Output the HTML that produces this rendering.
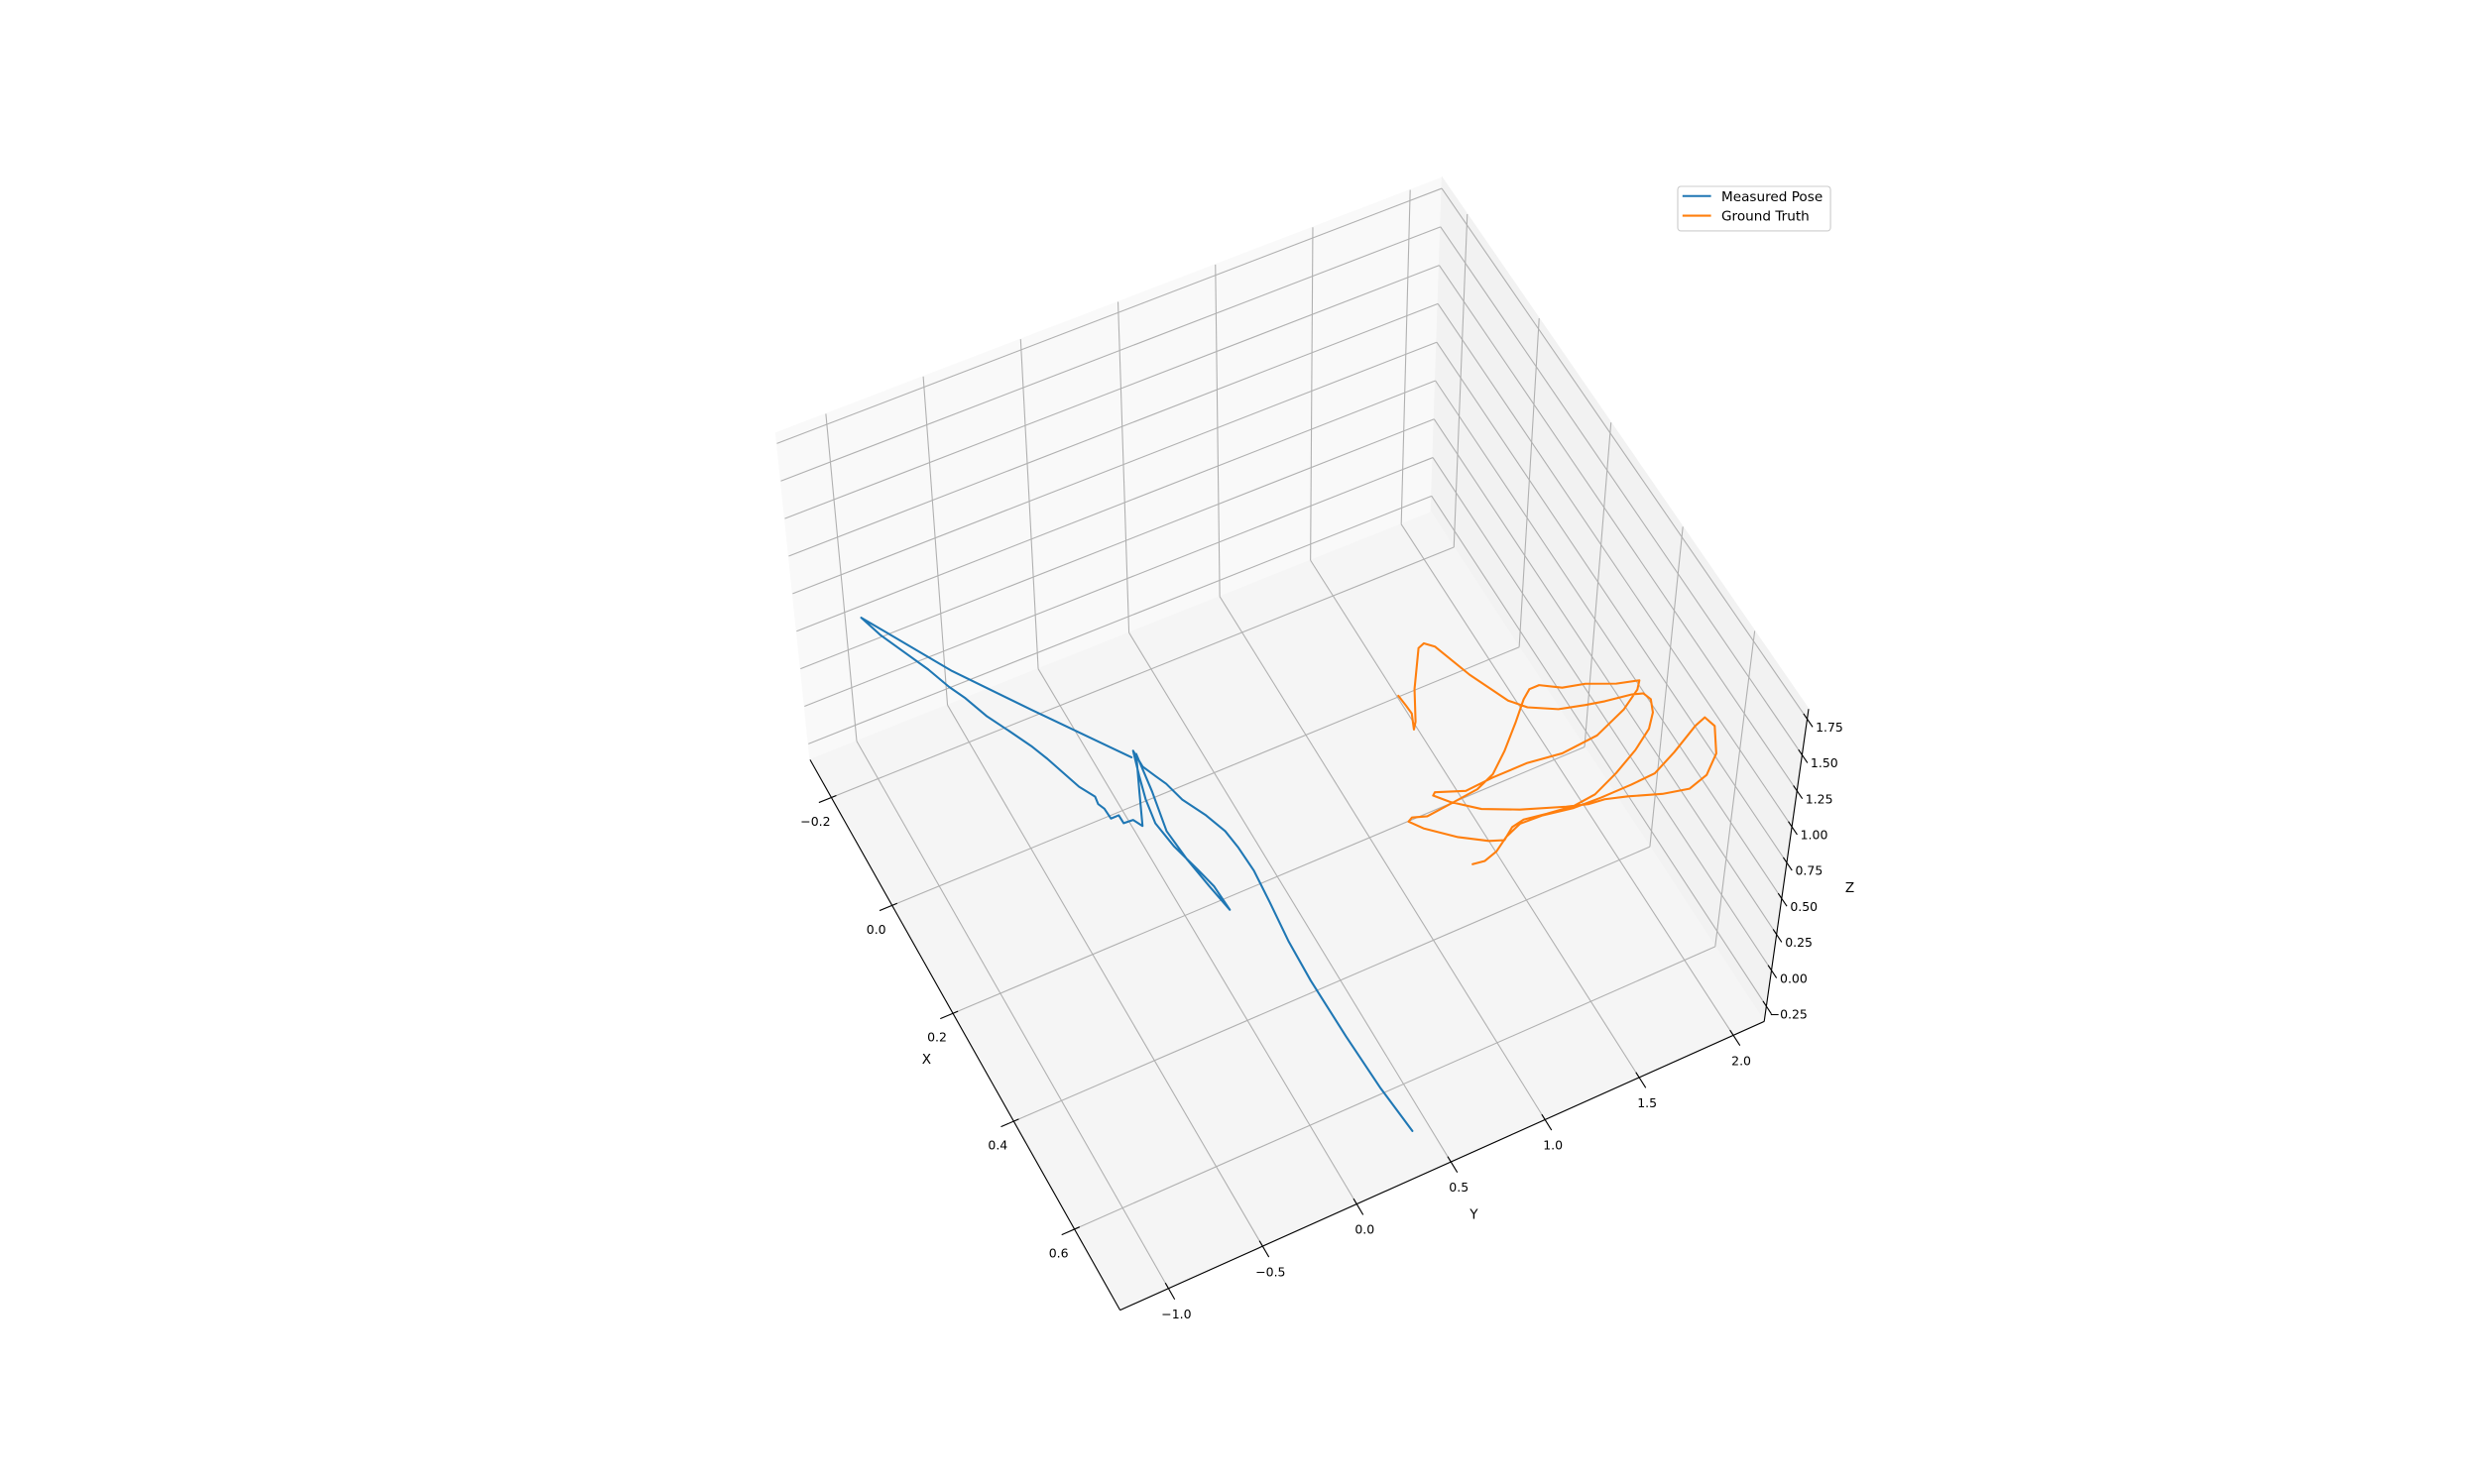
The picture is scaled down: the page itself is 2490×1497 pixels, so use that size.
<!DOCTYPE html>
<html><head><meta charset="utf-8"><title>3D Pose Trajectory</title>
<style>html,body{margin:0;padding:0;background:#fff;}svg{display:block;}</style></head>
<body>
<svg id="chart" width="2490" height="1497" viewBox="0 0 1556.25 935.625" xmlns="http://www.w3.org/2000/svg" font-family="'DejaVu Sans','Liberation Sans',sans-serif">
<g id="panes"></g>
<g id="grid"></g>
<g id="axes"></g>
<g id="series"></g>
<g id="legend">
  <rect x="1057.5" y="117.5" width="96.3" height="28.1" rx="2" fill="#fff" fill-opacity="0.8" stroke="#cccccc" stroke-width="0.7"/>
  <g>
    <line x1="1060.5" y1="123.6" x2="1078.5" y2="123.6" stroke="#1f77b4" stroke-width="1.3"/>
    <text x="1085" y="126.8" font-size="8.5" fill="#000">Measured Pose</text>
  </g>
  <g>
    <line x1="1060.5" y1="136" x2="1078.5" y2="136" stroke="#ff7f0e" stroke-width="1.3"/>
    <text x="1085" y="139.2" font-size="8.5" fill="#000">Ground Truth</text>
  </g>
</g>
</svg>
<script>
// ---- axis limits ----
const xLim = [-0.27, 0.75];
const yLim = [-1.257, 2.164];
const zLim = [-0.356, 1.82];
// ---- ticks ----
const xTicks = [-0.2, 0.0, 0.2, 0.4, 0.6];
const xTickLabels = ["\u22120.2", "0.0", "0.2", "0.4", "0.6"];
const yTicks = [-1.0, -0.5, 0.0, 0.5, 1.0, 1.5, 2.0];
const yTickLabels = ["\u22121.0", "\u22120.5", "0.0", "0.5", "1.0", "1.5", "2.0"];
const zTicks = [-0.25, 0.0, 0.25, 0.5, 0.75, 1.0, 1.25, 1.5, 1.75];
const zTickLabels = ["\u22120.25", "0.00", "0.25", "0.50", "0.75", "1.00", "1.25", "1.50", "1.75"];
// ---- Measured Pose series ----
const measX = [0.751,0.666,0.565,0.458,0.385,0.313,0.255,0.209,0.177,0.141,0.102,0.068,0.049,0.027,-0.003,0.039,0.079,0.121,0.168,0.219,0.253,0.299,0.250,0.196,0.140,0.071,0.004,0.063,0.117,0.102,0.101,0.086,0.086,0.067,0.056,0.043,0.018,-0.013,-0.044,-0.073,-0.107,-0.145,-0.187,-0.213,-0.252,-0.292,-0.332,-0.370,-0.235,-0.128,-0.022,0.006];
const measY = [0.278,0.254,0.241,0.235,0.242,0.263,0.277,0.270,0.257,0.216,0.155,0.127,0.100,0.070,0.070,0.031,-0.002,-0.022,-0.001,0.041,0.067,0.074,0.047,0.021,0.006,0.046,0.075,-0.009,-0.084,-0.109,-0.158,-0.159,-0.201,-0.204,-0.219,-0.213,-0.257,-0.290,-0.323,-0.360,-0.414,-0.477,-0.527,-0.568,-0.615,-0.676,-0.737,-0.778,-0.514,-0.266,-0.019,0.046];
const measZ = [0,0,0,0,0,0,0,0,0,0,0,0,0,0,0,0,0,0,0,0,0,0,0,0,0,0,0,0,0,0,0,0,0,0,0,0,0,0,0,0,0,0,0,0,0,0,0,0,0,0,0,0];
// ---- Ground Truth series ----
const gtX = [0.080,0.100,0.116,0.142,0.131,0.080,0.019,0.015,0.027,0.093,0.158,0.181,0.204,0.215,0.222,0.229,0.235,0.249,0.271,0.294,0.318,0.341,0.360,0.364,0.358,0.352,0.356,0.371,0.362,0.336,0.300,0.280,0.276,0.284,0.280,0.275,0.262,0.234,0.196,0.166,0.154,0.154,0.173,0.182,0.202,0.212,0.225,0.247,0.270,0.275,0.267,0.267,0.270,0.252,0.256,0.277,0.308,0.334,0.360,0.371,0.374,0.385,0.404,0.414,0.404,0.377,0.333,0.313,0.320,0.347,0.367,0.369,0.369,0.367,0.358,0.356,0.367,0.383,0.390,0.387];
const gtY = [1.354,1.360,1.363,1.329,1.357,1.441,1.570,1.606,1.644,1.714,1.806,1.869,1.994,2.118,2.210,2.342,2.393,2.408,2.380,2.318,2.203,2.060,1.914,1.794,1.660,1.548,1.480,1.413,1.346,1.227,1.105,1.060,1.085,1.153,1.284,1.436,1.541,1.652,1.780,1.875,1.927,1.979,2.069,2.177,2.307,2.413,2.379,2.268,2.084,1.889,1.717,1.532,1.383,1.249,1.233,1.288,1.400,1.559,1.760,1.863,1.941,2.046,2.195,2.321,2.430,2.529,2.599,2.582,2.519,2.359,2.220,2.092,1.929,1.788,1.640,1.522,1.430,1.350,1.276,1.216];
const gtZ = [0,0,0,0,0,0,0,0,0,0,0,0,0,0,0,0,0,0,0,0,0,0,0,0,0,0,0,0,0,0,0,0,0,0,0,0,0,0,0,0,0,0,0,0,0,0,0,0,0,0,0,0,0,0,0,0,0,0,0,0,0,0,0,0,0,0,0,0,0,0,0,0,0,0,0,0,0,0,0,0];

// ---- projection: box corners on screen (viewBox units) ----
const C000=[510.6,479], C100=[706,826], C110=[1112,644], C010=[902,323];
const C001=[489,273], C101=[704,636], C111=[1140,447], C011=[909,112];
function bil(p00,p10,p01,p11,u,v){
  return [p00[0]+u*(p10[0]-p00[0])+v*(p01[0]-p00[0])+u*v*(p11[0]-p10[0]-p01[0]+p00[0]),
          p00[1]+u*(p10[1]-p00[1])+v*(p01[1]-p00[1])+u*v*(p11[1]-p10[1]-p01[1]+p00[1])];
}
function project(x,y,z){
  const u=(x-xLim[0])/(xLim[1]-xLim[0]);
  const v=(y-yLim[0])/(yLim[1]-yLim[0]);
  const w=(z-zLim[0])/(zLim[1]-zLim[0]);
  const f=bil(C000,C100,C010,C110,u,v), t=bil(C001,C101,C011,C111,u,v);
  return [f[0]*(1-w)+t[0]*w, f[1]*(1-w)+t[1]*w];
}
const NS="http://www.w3.org/2000/svg";
function mk(tag,attrs,parent){const e=document.createElementNS(NS,tag);for(const k in attrs)e.setAttribute(k,attrs[k]);parent.appendChild(e);return e;}
function pts(arr){return arr.map(p=>p[0].toFixed(2)+","+p[1].toFixed(2)).join(" ");}

const gP=document.getElementById("panes"), gG=document.getElementById("grid"), gA=document.getElementById("axes"), gS=document.getElementById("series");
const [x0,x1]=xLim,[y0,y1]=yLim,[z0,z1]=zLim;

// panes
let pane;
pane=mk("polygon",{points:pts([project(x0,y0,z0),project(x0,y1,z0),project(x0,y1,z1),project(x0,y0,z1)]),fill:"#f9f9f9",stroke:"#f9f9f9","stroke-width":0.7},gP);


pane=mk("polygon",{points:pts([project(x0,y1,z0),project(x1,y1,z0),project(x1,y1,z1),project(x0,y1,z1)]),fill:"#f2f2f2",stroke:"#f2f2f2","stroke-width":0.7},gP);


pane=mk("polygon",{points:pts([project(x0,y0,z0),project(x1,y0,z0),project(x1,y1,z0),project(x0,y1,z0)]),fill:"#f5f5f5",stroke:"#f5f5f5","stroke-width":0.7},gP);



function gline(a,b,name){
  const l=mk("polyline",{points:pts([a,b]),stroke:"#b0b0b0","stroke-width":0.68,fill:"none"},gG);
  
  
}
xTicks.forEach(x=>{
  gline(project(x,y0,z0),project(x,y1,z0),"x-grid-floor");
  gline(project(x,y1,z0),project(x,y1,z1),"x-grid-wall");
});
yTicks.forEach(y=>{
  gline(project(x0,y,z0),project(x1,y,z0),"y-grid-floor");
  gline(project(x0,y,z0),project(x0,y,z1),"y-grid-wall");
});
zTicks.forEach(z=>{
  gline(project(x0,y0,z),project(x0,y1,z),"z-grid-x-wall");
  gline(project(x0,y1,z),project(x1,y1,z),"z-grid-y-wall");
});

// axis lines
function aline(a,b,name){
  const l=mk("polyline",{points:pts([a,b]),stroke:"#000","stroke-width":0.7,fill:"none"},gA);
  
  
}
function label(p,txt,name,size){
  const t=mk("text",{x:p[0].toFixed(2),y:p[1].toFixed(2),"font-size":size,"text-anchor":"middle","dominant-baseline":"central",fill:"#000"},gA);
  t.textContent=txt;
  
  
}
aline(project(x0,y0,z0),project(x1,y0,z0),"x-axis-line");
aline(project(x1,y0,z0),project(x1,y1,z0),"y-axis-line");
aline(project(x1,y1,z0),project(x1,y1,z1),"z-axis-line");
const yr=y1-y0, xr=x1-x0;
xTicks.forEach((x,i)=>{
  aline(project(x,y0+0.008*yr,z0),project(x,y0-0.02*yr,z0),"x-tick");
  const p=project(x,y0,z0);
  label([p[0]-10,p[1]+15],xTickLabels[i],"x-tick-label",7.8);
});
yTicks.forEach((y,i)=>{
  aline(project(x1-0.01*xr,y,z0),project(x1+0.02*xr,y,z0),"y-tick");
  const p=project(x1,y,z0);
  label([p[0]+5,p[1]+16],yTickLabels[i],"y-tick-label",7.8);
});
zTicks.forEach((z,i)=>{
  aline(project(x1-0.01*xr,y1,z),project(x1+0.015*xr,y1,z),"z-tick");
  const p=project(x1,y1,z);
  label([p[0]+14,p[1]+5],zTickLabels[i],"z-tick-label",7.8);
});
label([584,668],"X","x-axis-title",8.5);
label([929,766],"Y","y-axis-title",8.5);
label([1166,560],"Z","z-axis-title",8.5);

// series
function series(xs,ys,zs,color,name){
  const p=xs.map((x,i)=>project(x,ys[i],zs[i]));
  const l=mk("polyline",{points:pts(p),stroke:color,"stroke-width":1.3,fill:"none","stroke-linejoin":"round","stroke-linecap":"round"},gS);
  
  
}
series(measX,measY,measZ,"#1f77b4","measured-pose-line");
series(gtX,gtY,gtZ,"#ff7f0e","ground-truth-line");
</script>
</body></html>
